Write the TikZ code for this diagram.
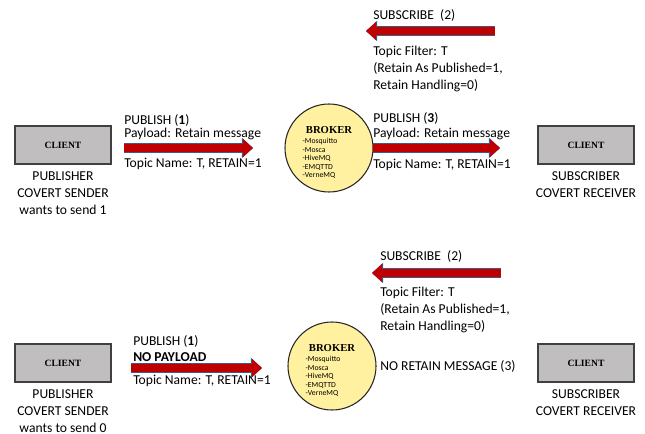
\documentclass[tikz,border=0pt]{standalone}
\usepackage{fontspec}
\setmainfont{Carlito}
\newfontfamily\boxfont{Liberation Serif}
\usetikzlibrary{arrows.meta,positioning}

\definecolor{clientgray}{RGB}{192,190,190}
\definecolor{brokeryellow}{RGB}{255,241,160}
\definecolor{msgred}{RGB}{192,0,0}
\definecolor{msgedge}{RGB}{56,93,138}

\tikzset{
  client/.style={draw=black!75, line width=1.3pt, fill=clientgray, minimum width=72pt, minimum height=29pt,
    inner sep=0pt, font=\boxfont\bfseries\fontsize{7.2}{8}\selectfont},
  broker/.style={circle, draw=black!85, line width=0.8pt, fill=brokeryellow, minimum size=66pt, inner sep=0pt},
  brokertitle/.style={inner sep=0pt, font=\boxfont\bfseries\fontsize{8}{9}\selectfont},
  brokerlist/.style={anchor=west, inner sep=0pt, align=left, font=\fontsize{5.8}{6.4}\selectfont},
  msg/.style={line width=6pt, draw=msgred, -{Triangle[length=7.5pt,width=13pt]},
    preaction={draw=msgedge, line width=7.2pt, -{Triangle[length=8.4pt,width=15pt]}}},
  txt/.style={anchor=west, inner sep=0pt, font=\fontsize{10.2}{12.75}\selectfont},
  txtblock/.style={anchor=north west, inner sep=0pt, align=left, font=\fontsize{10.2}{12.75}\selectfont},
  role/.style={inner sep=0pt, align=center, font=\fontsize{10.2}{12.4}\selectfont},
}

\begin{document}
\begin{tikzpicture}[x=0.75pt, y=-0.75pt]
  \useasboundingbox (0,0) rectangle (645,434);

  % upper case: retained message is kept by the broker
  \node[client] (pubA) at (63,145) {CLIENT};
  \node[role, below=5pt of pubA] (pubArole) {PUBLISHER\\COVERT SENDER\\wants to send 1};
  \node[client] (subA) at (586,145) {CLIENT};
  \node[role, below=5pt of subA] (subArole) {SUBSCRIBER\\COVERT RECEIVER};

  \node[broker] (brokerA) at (329,148) {};
  \node[brokertitle] (brokerAtitle) at ([yshift=13.5pt]brokerA.center) {BROKER};
  \node[brokerlist] (brokerAlist) at ([xshift=-20pt,yshift=-8pt]brokerA.center)
    {-Mosquitto\\-Mosca\\-HiveMQ\\-EMQTTD\\-VerneMQ};

  \coordinate (pubAtail) at (124,148);
  \coordinate (pubAtip) at (253,148);
  \draw[msg] (pubAtail) -- (pubAtip);
  \node[txt] (pubAhead) at (124,120) {PUBLISH (\textbf{1})};
  \node[txt] (pubApay) at (124,134) {Payload: Retain message};
  \node[txt] (pubAtopic) at (124,164) {Topic Name: T, RETAIN=1};

  \coordinate (fwdAtail) at (373,148);
  \coordinate (fwdAtip) at (500,148);
  \draw[msg] (fwdAtail) -- (fwdAtip);
  \node[txt] (fwdAhead) at (373,118) {PUBLISH (\textbf{3})};
  \node[txt] (fwdApay) at (373,134) {Payload: Retain message};
  \node[txt] (fwdAtopic) at (373,165) {Topic Name: T, RETAIN=1};

  \coordinate (subAtail) at (495,31);
  \coordinate (subAtip) at (366,31);
  \draw[msg] (subAtail) -- (subAtip);
  \node[txt] (subAhead) at (373,15) {SUBSCRIBE\ \ (2)};
  \node[txtblock] (subAfilter) at (373,46) {Topic Filter: T\\(Retain As Published=1,\\Retain Handling=0)};

  % lower case: nothing is retained
  \node[client] (pubB) at (63,363) {CLIENT};
  \node[role, below=5pt of pubB] (pubBrole) {PUBLISHER\\COVERT SENDER\\wants to send 0};
  \node[client] (subB) at (586,363) {CLIENT};
  \node[role, below=5pt of subB] (subBrole) {SUBSCRIBER\\COVERT RECEIVER};

  \node[broker] (brokerB) at (332,366) {};
  \node[brokertitle] (brokerBtitle) at ([yshift=13.5pt]brokerB.center) {BROKER};
  \node[brokerlist] (brokerBlist) at ([xshift=-20pt,yshift=-8pt]brokerB.center)
    {-Mosquitto\\-Mosca\\-HiveMQ\\-EMQTTD\\-VerneMQ};

  \coordinate (pubBtail) at (131,368);
  \coordinate (pubBtip) at (262,368);
  \draw[msg] (pubBtail) -- (pubBtip);
  \node[txt] (pubBhead) at (133,341) {PUBLISH (\textbf{1})};
  \node[txt] (pubBpay) at (133,357) {\textbf{NO PAYLOAD}};
  \node[txt] (pubBtopic) at (133,381) {Topic Name: T, RETAIN=1};

  \coordinate (subBtail) at (501,273);
  \coordinate (subBtip) at (372,273);
  \draw[msg] (subBtail) -- (subBtip);
  \node[txt] (subBhead) at (380,256) {SUBSCRIBE\ \ (2)};
  \node[txtblock] (subBfilter) at (380,287) {Topic Filter: T\\(Retain As Published=1,\\Retain Handling=0)};
  \node[txt] (noretain) at (380,366) {NO RETAIN MESSAGE (3)};
\end{tikzpicture}
\end{document}
